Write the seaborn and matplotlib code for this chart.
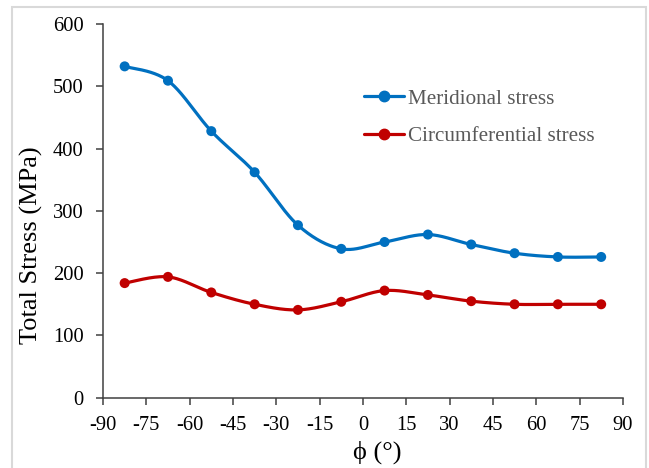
import numpy as np
import pandas as pd
import seaborn as sns
import matplotlib
matplotlib.use("Agg")
import matplotlib.pyplot as plt
from matplotlib.patches import Rectangle
from matplotlib.lines import Line2D

# Angular positions (degrees) and stress values (MPa)
phi = [-82.5, -67.5, -52.5, -37.5, -22.5, -7.5, 7.5, 22.5, 37.5, 52.5, 67.5, 82.5]
meridional = [532, 509, 428, 362, 277, 239, 250, 262, 246, 232, 226, 226]
circumferential = [184, 194, 169, 150, 141, 154, 172, 165, 155, 150, 150, 150]

series_names = ["Meridional stress", "Circumferential stress"]
series_colors = ["#0070C0", "#C00000"]
x_ticks = list(range(-90, 91, 15))
y_ticks = list(range(0, 601, 100))


def smooth_curve(x, y, n=40):
    """Cubic Bezier smoothing through every point (spreadsheet-style smoothed line)."""
    x = np.asarray(x, float)
    y = np.asarray(y, float)
    px = np.concatenate([[x[0]], x, [x[-1]]])
    py = np.concatenate([[y[0]], y, [y[-1]]])
    xs, ys = [], []
    t = np.linspace(0, 1, n)
    for i in range(1, len(px) - 2):
        p0 = np.array([px[i], py[i]])
        p3 = np.array([px[i + 1], py[i + 1]])
        c1 = p0 + (np.array([px[i + 1], py[i + 1]]) - np.array([px[i - 1], py[i - 1]])) / 6
        c2 = p3 - (np.array([px[i + 2], py[i + 2]]) - np.array([px[i], py[i]])) / 6
        b = ((1 - t) ** 3)[:, None] * p0 + (3 * (1 - t) ** 2 * t)[:, None] * c1 \
            + (3 * (1 - t) * t ** 2)[:, None] * c2 + (t ** 3)[:, None] * p3
        xs.extend(b[:, 0])
        ys.extend(b[:, 1])
    return np.array(xs), np.array(ys)


sns.set_theme(style="white")
plt.rcParams["font.family"] = ["Liberation Serif", "DejaVu Serif"]

fig = plt.figure(figsize=(6.49, 4.68), dpi=100)
ax = fig.add_axes([0.1587, 0.1502, 0.801, 0.7985])

points = pd.DataFrame({
    "phi": phi * 2,
    "stress": meridional + circumferential,
    "series": [series_names[0]] * len(phi) + [series_names[1]] * len(phi),
})

for name, vals, col in zip(series_names, [meridional, circumferential], series_colors):
    sx, sy = smooth_curve(phi, vals)
    sns.lineplot(x=sx, y=sy, ax=ax, color=col, linewidth=2.3, sort=False,
                 estimator=None, legend=False)

sns.scatterplot(data=points, x="phi", y="stress", hue="series",
                palette=dict(zip(series_names, series_colors)), s=52,
                edgecolor="none", ax=ax, legend=False, zorder=3)

ax.set_xlim(-90, 90)
ax.set_ylim(0, 600)
ax.set_xticks(x_ticks)
ax.set_yticks(y_ticks)
ax.set_xticklabels([str(v) for v in x_ticks])
ax.set_yticklabels([str(v) for v in y_ticks])

for side in ["top", "right"]:
    ax.spines[side].set_visible(False)
for side in ["left", "bottom"]:
    ax.spines[side].set_color("#404040")
    ax.spines[side].set_linewidth(1.1)

ax.tick_params(axis="both", which="major", direction="out", length=5, width=1.1,
               color="#404040", labelsize=14.8, labelcolor="black",
               bottom=True, left=True)
ax.tick_params(axis="y", pad=9)
ax.tick_params(axis="x", pad=8)

ax.set_xlabel("ϕ (°)", fontsize=19, color="black")
ax.xaxis.label.set_va("center")
ax.xaxis.set_label_coords(0.527, -0.145)
ax.set_ylabel("Total Stress (MPa)", fontsize=19, color="black")
ax.yaxis.label.set_va("center")
ax.yaxis.set_label_coords(-0.1385, 0.409)
ax.grid(False)

handles = [Line2D([0], [0], color=c, lw=2.3, marker="o", markersize=7.5)
           for c in series_colors]
leg = ax.legend(handles, series_names, loc="upper left",
                bbox_to_anchor=(0.485, 0.849), frameon=False,
                fontsize=15.2, handlelength=1.9, handletextpad=0.2,
                labelspacing=0.85, borderaxespad=0)
for txt in leg.get_texts():
    txt.set_color("#595959")

# light frame around the chart area
fig.patches.append(Rectangle((12 / 649, -0.01), (646 - 12) / 649, 1.01 - 7 / 468,
                             transform=fig.transFigure, fill=False,
                             edgecolor="#d9d9d9", linewidth=1.5))

fig.savefig("out.png", dpi=100)
